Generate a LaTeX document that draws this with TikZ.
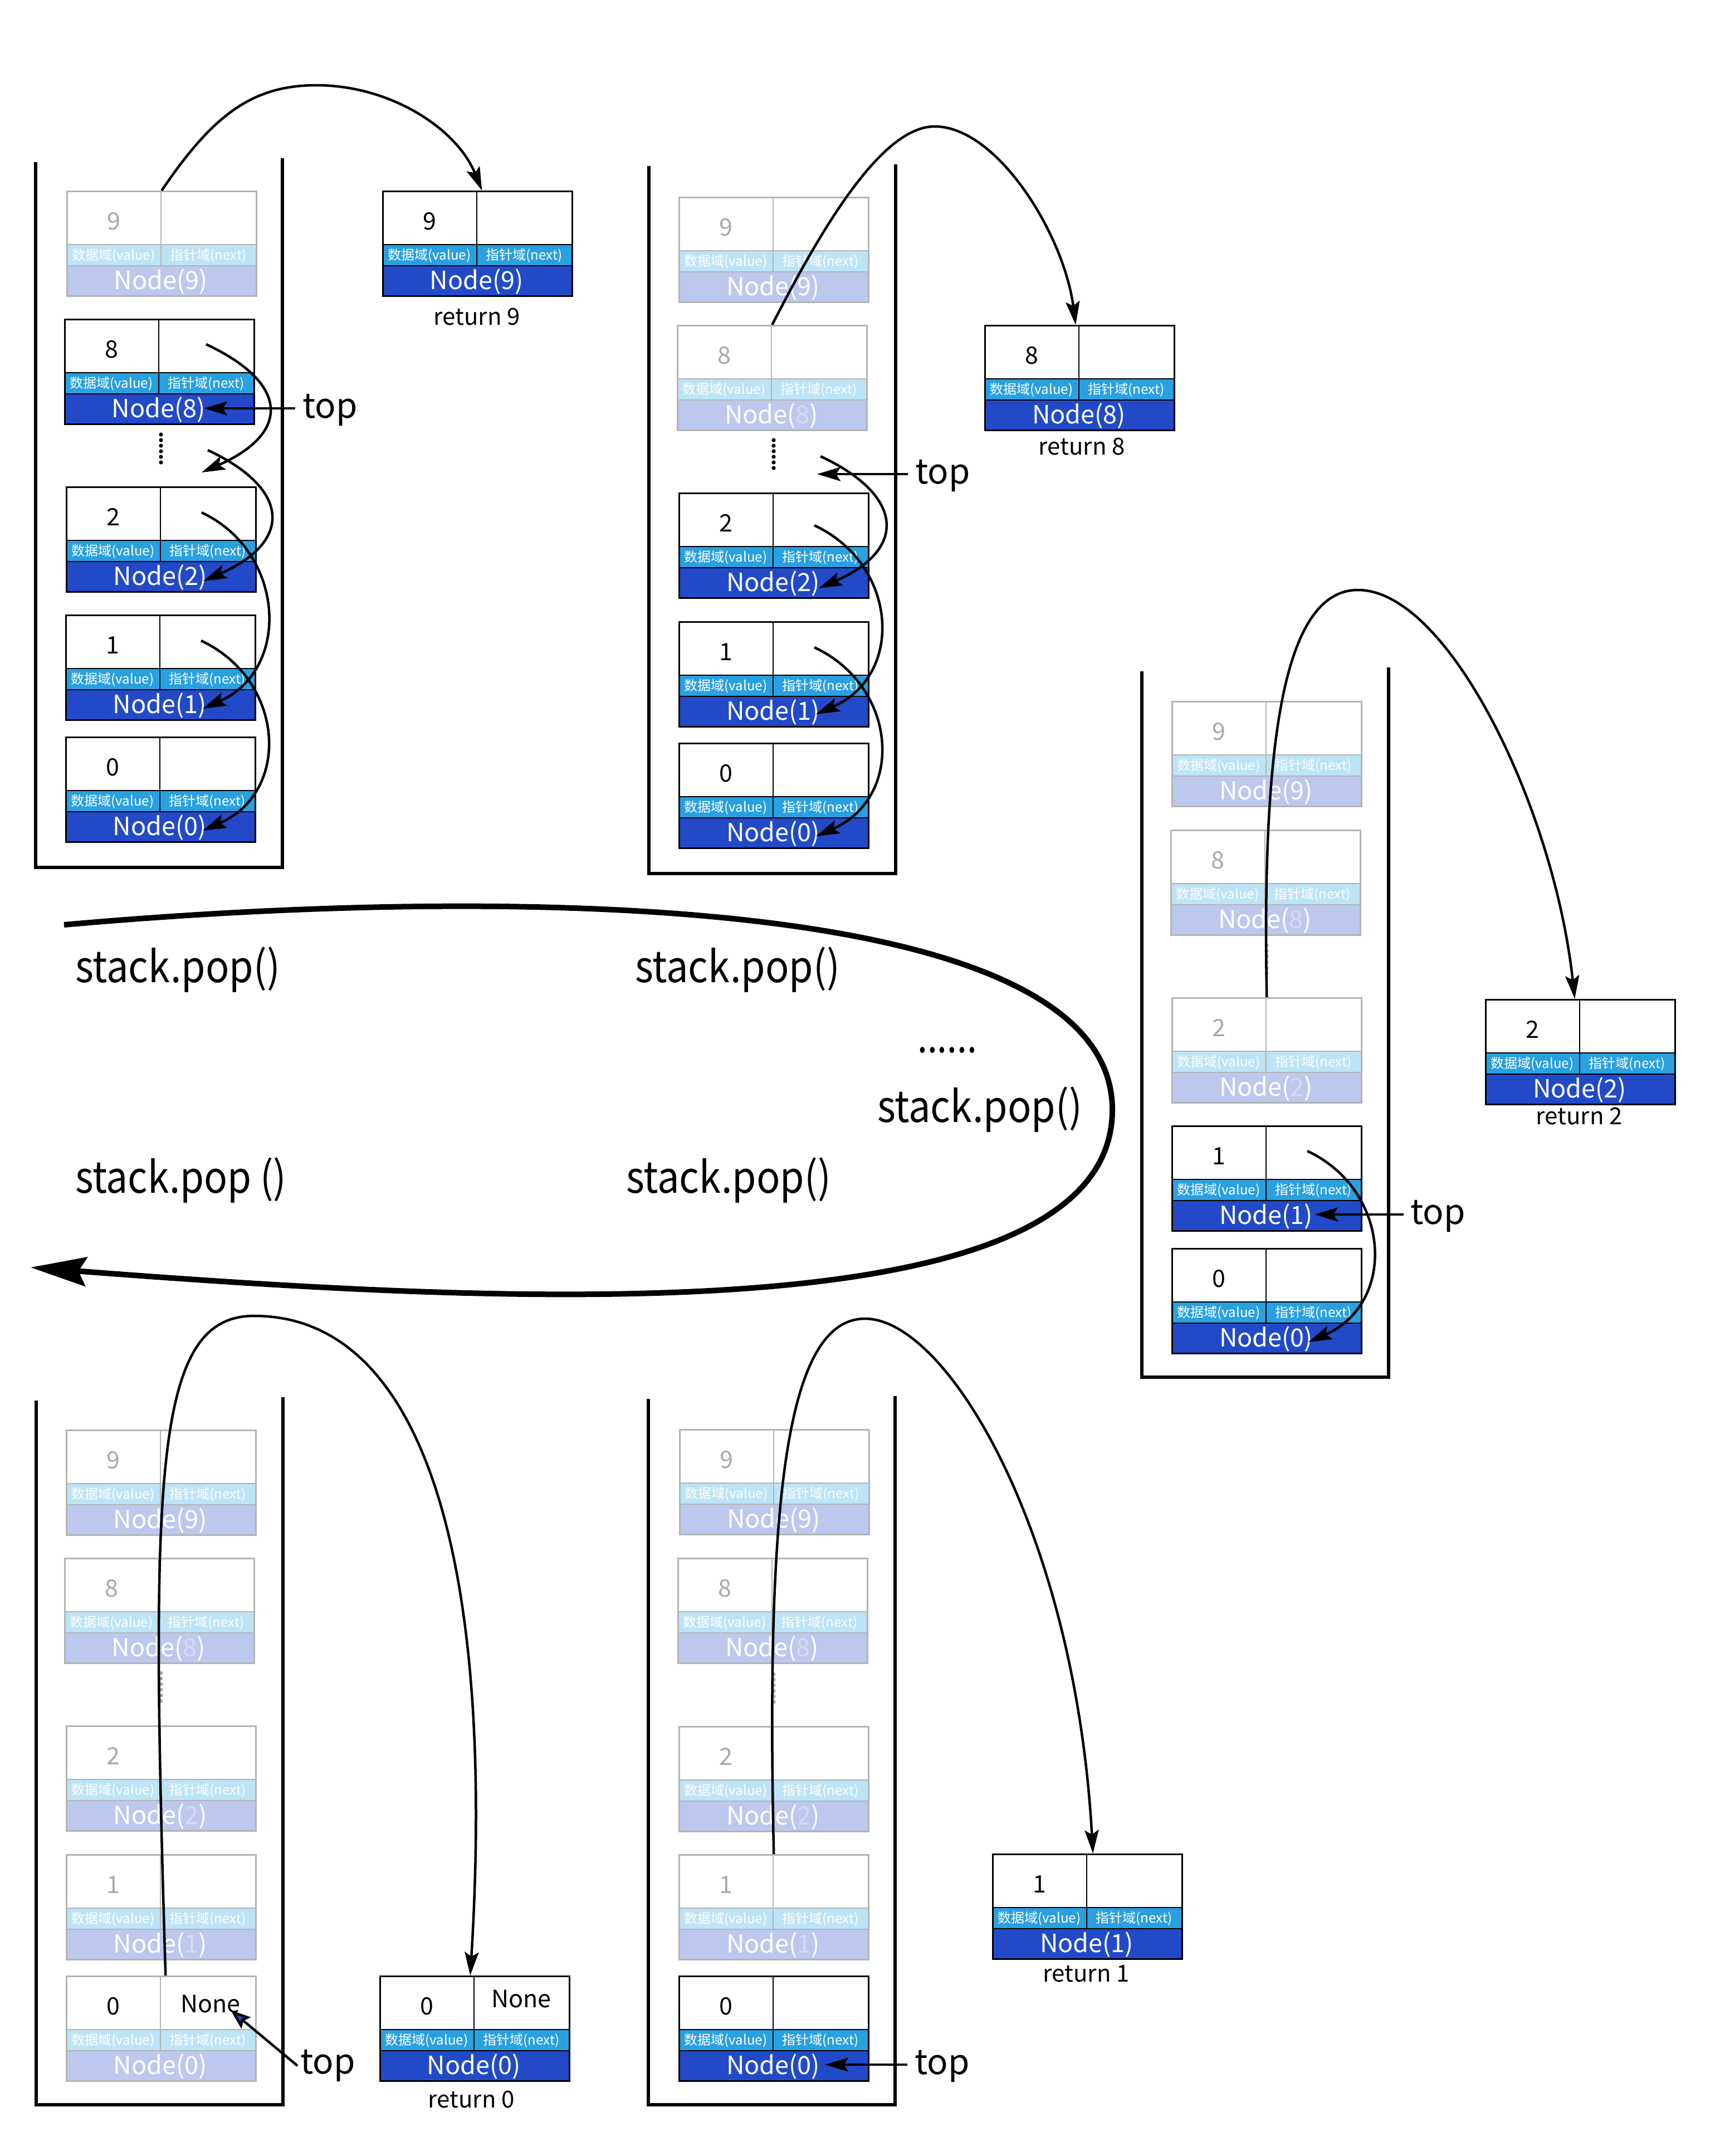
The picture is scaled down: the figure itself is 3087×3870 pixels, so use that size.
\documentclass[tikz,border=0pt]{standalone}
\usepackage{fontspec}
\usepackage{graphicx}
\setmainfont{Noto Sans CJK SC}
\usetikzlibrary{arrows.meta,calc}
\definecolor{albl}{HTML}{29A0E0}
\definecolor{anod}{HTML}{224AC8}
\definecolor{flbl}{HTML}{BDE3F6}
\definecolor{fnod}{HTML}{BCC8EE}
\definecolor{fline}{HTML}{B4B4B4}
\definecolor{fval}{HTML}{A9A9A9}
\definecolor{fdig}{HTML}{D6D9EF}
\tikzset{
 Aline/.style={draw=black,line width=2.5pt},
 Fline/.style={draw=fline,line width=2.5pt},
 Albl/.style={fill=albl}, Anod/.style={fill=anod},
 Flbl/.style={fill=flbl}, Fnod/.style={fill=fnod},
 Aval/.style={text=black}, Fval/.style={text=fval},
 boxframe/.style={rectangle,minimum width=340pt,minimum height=188pt,inner sep=0pt,anchor=north west},
 txt/.style={inner sep=0pt,anchor=base},
 valtxt/.style={txt,font=\fontsize{43}{50}\selectfont},
 lbltxt/.style={txt,text=white,font=\fontsize{24}{28}\selectfont},
 nodtxt/.style={txt,text=white,font=\fontsize{45}{54}\selectfont},
 rettxt/.style={txt,font=\fontsize{42}{50}\selectfont},
 toptxt/.style={inner sep=0pt,anchor=base west,font=\fontsize{62}{70}\selectfont},
 poptxt/.style={inner sep=0pt,anchor=base west,font=\fontsize{78}{90}\selectfont},
 link/.style={line width=4.5pt,-{Stealth[length=42pt,width=25pt,inset=8pt]}},
 cont/.style={line width=6pt,line join=miter},
 loop/.style={line width=10pt,-{Stealth[length=100pt,width=52pt,inset=14pt]}},
}
% #1 name, #2 x, #3 y, #4 mode (A/F), #5 value, #6 digit in label, #7 digit colour
\newcommand\snode[7]{%
 \begin{scope}[shift={(#2,#3)}]
  \fill[white] (0,0) rectangle (340,97);
  \fill[#4lbl] (0,97) rectangle (340,135);
  \fill[#4nod] (0,135) rectangle (340,188);
  \draw[#4line] (0,97) -- (340,97) (0,135) -- (340,135) (170,0) -- (170,135);
  \node[boxframe,#4line] (#1) at (0,0) {};
  \node[valtxt,#4val] (#1v) at (85,70) {#5};
  \node[lbltxt] (#1a) at (85,124) {数据域(value)};
  \node[lbltxt] (#1b) at (255,124) {指针域(next)};
  \node[nodtxt] (#1c) at (170,177) {Node(\textcolor{#7}{#6})};
 \end{scope}}
\newcommand\dotcol[4]{\coordinate (#1) at (#2,#3);
 \foreach \k in {0,...,5} \fill[#4] ($(#1)+(0,-25+10*\k)$) circle (3.6pt);}
\newcommand\narrow[2]{\scalebox{#1}[1]{#2}}
\begin{document}
\begin{tikzpicture}[x=1pt,y=-1pt]
\fill[white] (0,0) rectangle (3087,3870);
\useasboundingbox (0,0) rectangle (3087,3870);

% ---------- containers ----------
\draw[cont] (64,291) -- (64,1557) -- (507,1557) -- (507,284);
\draw[cont] (1165,298) -- (1165,1568) -- (1608,1568) -- (1608,295);
\draw[cont] (2050,1205) -- (2050,2472) -- (2493,2472) -- (2493,1198);
\draw[cont] (1164,2511) -- (1164,3778) -- (1607,3778) -- (1607,2506);
\draw[cont] (65,2514) -- (65,3778) -- (508,3778) -- (508,2508);

% ---------- panel A ----------
\snode{a9}{119}{342}{F}{9}{9}{white}
\snode{a8}{115}{572}{A}{8}{8}{white}
\dotcol{adots}{289}{805}{black}
\snode{a2}{118}{873}{A}{2}{2}{white}
\snode{a1}{117}{1103}{A}{1}{1}{white}
\snode{a0}{117}{1322}{A}{0}{0}{white}
\snode{r9}{686}{342}{A}{9}{9}{white}
\node[rettxt] (r9t) at (856,583) {return 9};

% ---------- panel B ----------
\snode{b9}{1218}{353}{F}{9}{9}{white}
\snode{b8}{1215}{583}{F}{8}{8}{fdig}
\dotcol{bdots}{1389}{815}{black}
\snode{b2}{1218}{884}{A}{2}{2}{white}
\snode{b1}{1218}{1115}{A}{1}{1}{white}
\snode{b0}{1218}{1333}{A}{0}{0}{white}
\snode{r8}{1767}{583}{A}{8}{8}{white}
\node[rettxt] (r8t) at (1942,816) {return 8};

% ---------- panel C ----------
\snode{c9}{2103}{1258}{F}{9}{9}{white}
\snode{c8}{2101}{1489}{F}{8}{8}{fdig}
\dotcol{cdots}{2274}{1722}{fval}
\snode{c2}{2103}{1790}{F}{2}{2}{fdig}
\snode{c1}{2103}{2020}{A}{1}{1}{white}
\snode{c0}{2103}{2240}{A}{0}{0}{white}
\snode{r2}{2666}{1793}{A}{2}{2}{white}
\node[rettxt] (r2t) at (2835,2018) {return 2};

% ---------- panel D ----------
\snode{d9}{1219}{2565}{F}{9}{9}{white}
\snode{d8}{1216}{2796}{F}{8}{8}{fdig}
\dotcol{ddots}{1389}{3030}{fval}
\snode{d2}{1218}{3098}{F}{2}{2}{fdig}
\snode{d1}{1218}{3328}{F}{1}{1}{fdig}
\snode{d0}{1218}{3546}{A}{0}{0}{white}
\snode{r1}{1781}{3327}{A}{1}{1}{white}
\node[rettxt] (r1t) at (1950,3557) {return 1};

% ---------- panel E ----------
\snode{e9}{118}{2566}{F}{9}{9}{white}
\snode{e8}{115}{2796}{F}{8}{8}{fdig}
\dotcol{edots}{289}{3028}{fval}
\snode{e2}{118}{3097}{F}{2}{2}{fdig}
\snode{e1}{118}{3328}{F}{1}{1}{fdig}
\snode{e0}{118}{3546}{F}{\color{black}0}{0}{white}
\node[valtxt] (e0n) at (378,3612) {None};
\snode{r0}{681}{3546}{A}{0}{0}{white}
\node[valtxt] (r0n) at (936,3603) {None};
\node[rettxt] (r0t) at (846,3783) {return 0};

% ---------- chain links ----------
\draw[link] ($(a8.north west)+(255,46)$) .. controls +(150,70) and +(160,-70) .. ($(adots)+(73,43)$);
\draw[link] ($(adots)+(84,3)$) .. controls +(150,70) and +(160,-70) .. ($(a2.north west)+(247,170)$);
\draw[link] ($(a2.north west)+(244,47)$) .. controls +(150,70) and +(160,-70) .. ($(a1.north west)+(247,169)$);
\draw[link] ($(a1.north west)+(244,47)$) .. controls +(150,70) and +(160,-70) .. ($(a0.north west)+(247,169)$);

\draw[link] ($(bdots)+(84,4)$) .. controls +(150,70) and +(160,-70) .. ($(b2.north west)+(252,172)$);
\draw[link] ($(b2.north west)+(244,59)$) .. controls +(150,70) and +(160,-70) .. ($(b1.north west)+(247,167)$);
\draw[link] ($(b1.north west)+(244,47)$) .. controls +(150,70) and +(160,-70) .. ($(b0.north west)+(247,168)$);

\draw[link] ($(c1.north west)+(244,46)$) .. controls +(150,70) and +(160,-70) .. ($(c0.north west)+(246,169)$);

% ---------- top pointers ----------
\node[toptxt] (atop) at (543,750) {top};
\draw[link] ($(atop.base west)+(-13,-17)$) -- ($(a8.north west)+(251,161)$);
\node[toptxt] (btop) at (1643,868) {top};
\draw[link] ($(btop.base west)+(-13,-17)$) -- ($(bdots)+(78,36)$);
\node[toptxt] (ctop) at (2532,2197) {top};
\draw[link] ($(ctop.base west)+(-12,-17)$) -- ($(c1.north west)+(257,160)$);
\node[toptxt] (dtop) at (1642,3723) {top};
\draw[link] ($(dtop.base west)+(-13,-17)$) -- ($(d0.north west)+(263,160)$);
\node[toptxt] (etop) at (539,3722) {top};
\draw[line width=4.5pt,-{Stealth[length=36pt,width=26pt,inset=6pt,fill=anod]}] ($(etop.base west)+(-5,-14)$) -- ($(e0.north west)+(296,62)$);

% ---------- pop arcs ----------
\draw[link] (a9.north) .. controls (380,210) and (450,153) .. (568,153) .. controls (700,153) and (820,230) .. ($(r9.north)+(8,0)$);
\draw[link] (b8.north) .. controls (1470,420) and (1580,227) .. (1678,227) .. controls (1790,227) and (1910,420) .. ($(r8.north)+(-7,0)$);
\draw[link] (c2.north) .. controls (2266,1350) and (2300,1059) .. (2438,1059) .. controls (2600,1059) and (2790,1450) .. ($(r2.north)+(-10,0)$);
\draw[link] (d1.north) .. controls (1375,2700) and (1410,2367) .. (1553,2367) .. controls (1700,2367) and (1930,2750) .. ($(r1.north)+(10,0)$);
\draw[link] ($(e0.north)+(8,0)$) .. controls (270,2650) and (275,2362) .. (456,2362) .. controls (760,2362) and (890,2800) .. ($(r0.north)+(-8,0)$);

% ---------- big loop ----------
\coordinate (ls) at (115,1660);
\coordinate (le) at (55,2275);
\draw[loop] (ls) .. controls (900,1590) and (1997,1600) .. (1997,1992) .. controls (1997,2400) and (900,2340) .. (le);
\node[poptxt] (p1) at (135,1763) {\narrow{0.9}{stack.pop()}};
\node[poptxt] (p2) at (1140,1763) {\narrow{0.9}{stack.pop()}};
\node[poptxt] (p3) at (1647,1889) {\narrow{0.82}{......}};
\node[poptxt] (p4) at (1575,2014) {\narrow{0.9}{stack.pop()}};
\node[poptxt] (p5) at (135,2141) {\narrow{0.89}{stack.pop ()}};
\node[poptxt] (p6) at (1124,2141) {\narrow{0.9}{stack.pop()}};
\end{tikzpicture}
\end{document}
